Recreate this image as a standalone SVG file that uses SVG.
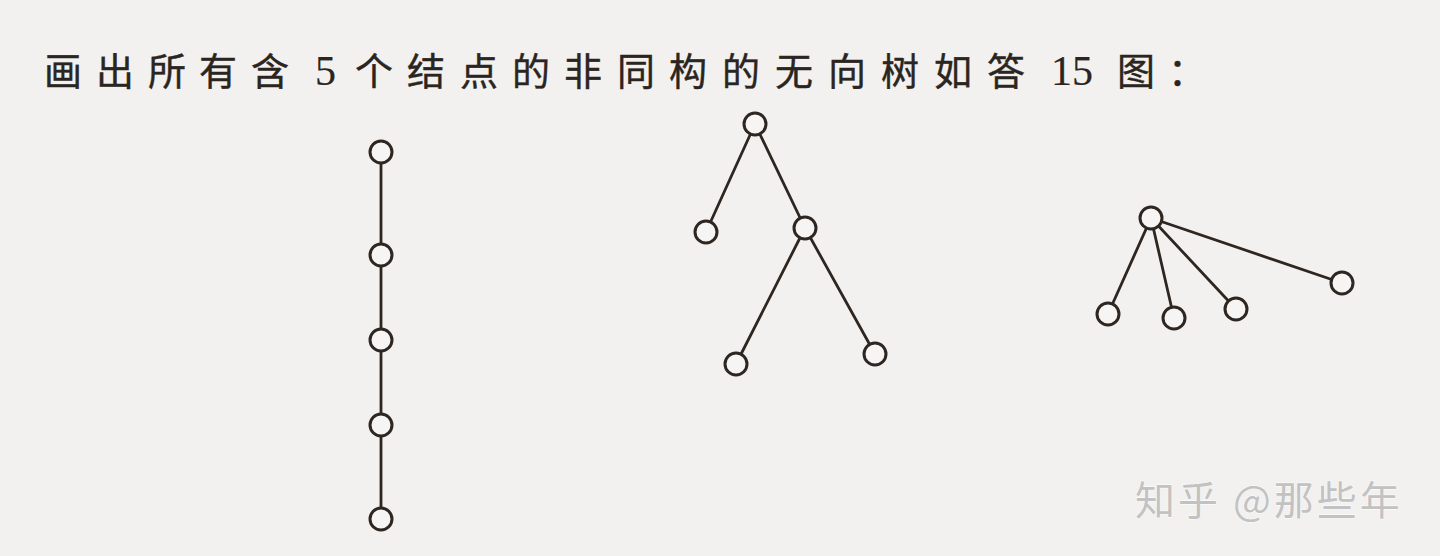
<svg xmlns="http://www.w3.org/2000/svg" width="1440" height="556" viewBox="0 0 1440 556">
<style>
.bg{fill:#f2f1ef}
.edge{stroke:#2e2620;stroke-width:2.8;fill:none;stroke-linecap:round}
.node{fill:#f6f5f3;stroke:#2e2620;stroke-width:3}
.title{font-family:"Noto Sans CJK SC","Noto Sans",sans-serif;font-size:38px;fill:#2a2520;stroke:#2a2520;stroke-width:0.4}
.num{font-family:"Liberation Serif","DejaVu Serif",serif;font-size:42px;stroke-width:0.2}
.wm{font-family:"Noto Sans CJK SC","Noto Sans",sans-serif;font-size:40px;fill:#c2c2c2;stroke:#ffffff;stroke-width:0.8;paint-order:stroke}
</style>
<rect class="bg" x="0" y="0" width="1440" height="556"/>
<g id="title">
<text class="title" y="85"><tspan x="44">画</tspan><tspan x="96">出</tspan><tspan x="148">所</tspan><tspan x="199">有</tspan><tspan x="251">含</tspan><tspan x="291"> </tspan><tspan class="num" x="315">5</tspan><tspan x="337"> </tspan><tspan x="355">个</tspan><tspan x="407">结</tspan><tspan x="460">点</tspan><tspan x="512">的</tspan><tspan x="564">非</tspan><tspan x="617">同</tspan><tspan x="669">构</tspan><tspan x="722">的</tspan><tspan x="775">无</tspan><tspan x="828">向</tspan><tspan x="881">树</tspan><tspan x="934">如</tspan><tspan x="987">答</tspan><tspan x="1028"> </tspan><tspan class="num" x="1051">15</tspan><tspan x="1099"> </tspan><tspan x="1117">图</tspan><tspan x="1168">：</tspan></text>
</g>
<g id="connectors">
<line class="edge" x1="381" y1="152" x2="381" y2="255"/>
<line class="edge" x1="381" y1="255" x2="381" y2="340"/>
<line class="edge" x1="381" y1="340" x2="381" y2="425"/>
<line class="edge" x1="381" y1="425" x2="381" y2="519"/>
<line class="edge" x1="755" y1="124" x2="706" y2="232"/>
<line class="edge" x1="755" y1="124" x2="805" y2="228"/>
<line class="edge" x1="805" y1="228" x2="736" y2="364"/>
<line class="edge" x1="805" y1="228" x2="875" y2="354"/>
<line class="edge" x1="1151" y1="218" x2="1108" y2="314"/>
<line class="edge" x1="1151" y1="218" x2="1174" y2="318"/>
<line class="edge" x1="1151" y1="218" x2="1236" y2="309"/>
<line class="edge" x1="1151" y1="218" x2="1342" y2="283"/>
</g>
<g id="t1n1"><circle class="node" cx="381" cy="152" r="11"/></g>
<g id="t1n2"><circle class="node" cx="381" cy="255" r="11"/></g>
<g id="t1n3"><circle class="node" cx="381" cy="340" r="11"/></g>
<g id="t1n4"><circle class="node" cx="381" cy="425" r="11"/></g>
<g id="t1n5"><circle class="node" cx="381" cy="519" r="11"/></g>
<g id="t2root"><circle class="node" cx="755" cy="124" r="11"/></g>
<g id="t2left"><circle class="node" cx="706" cy="232" r="11"/></g>
<g id="t2mid"><circle class="node" cx="805" cy="228" r="11"/></g>
<g id="t2bl"><circle class="node" cx="736" cy="364" r="11"/></g>
<g id="t2br"><circle class="node" cx="875" cy="354" r="11"/></g>
<g id="t3root"><circle class="node" cx="1151" cy="218" r="11"/></g>
<g id="t3a"><circle class="node" cx="1108" cy="314" r="11"/></g>
<g id="t3b"><circle class="node" cx="1174" cy="318" r="11"/></g>
<g id="t3c"><circle class="node" cx="1236" cy="309" r="11"/></g>
<g id="t3d"><circle class="node" cx="1342" cy="283" r="11"/></g>
<g id="watermark">
<text class="wm" x="1135" y="515" letter-spacing="3">知乎 @那些年</text>
</g>
</svg>
